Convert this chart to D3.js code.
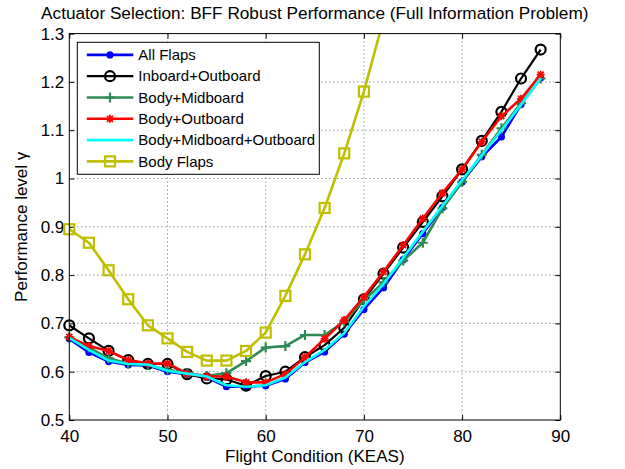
<!DOCTYPE html>
<html>
<head>
<meta charset="utf-8">
<script src="https://cdn.jsdelivr.net/npm/d3@7/dist/d3.min.js"></script>
<style>
body{margin:0;background:#fff;}
text{font-family:"Liberation Sans",Arial,Helvetica,sans-serif;fill:#000;}
</style>
</head>
<body>
<div id="chart"></div>
<script>
// data
var flightCond = [40,42,44,46,48,50,52,54,56,58,60,62,64,66,68,70,72,74,76,78,80,82,84,86,88];

var allFlaps = [0.668,0.640,0.621,0.614,0.613,0.600,0.595,0.588,0.569,0.569,0.571,0.585,0.619,0.641,0.678,0.729,0.774,0.832,0.886,0.940,0.993,1.045,1.086,1.153,1.208];
var inboardOutboard = [0.696,0.669,0.643,0.624,0.616,0.616,0.595,0.586,0.584,0.571,0.591,0.600,0.630,0.655,0.691,0.750,0.803,0.857,0.910,0.963,1.019,1.078,1.138,1.207,1.267];
var bodyMidboard = [0.671,0.650,0.628,0.617,0.614,0.604,0.597,0.591,0.597,0.622,0.650,0.653,0.676,0.676,0.704,0.748,0.785,0.830,0.867,0.938,0.993,1.049,1.104,1.156,1.207];
var bodyOutboard = [0.672,0.653,0.643,0.624,0.617,0.617,0.596,0.590,0.590,0.578,0.578,0.595,0.630,0.668,0.707,0.755,0.807,0.862,0.917,0.970,1.019,1.076,1.129,1.165,1.215];
var bodyMidOutboard = [0.670,0.645,0.623,0.616,0.615,0.602,0.596,0.590,0.572,0.569,0.572,0.588,0.620,0.645,0.680,0.735,0.782,0.836,0.890,0.943,0.997,1.048,1.100,1.153,1.208];
var bodyFlaps = [0.895,0.867,0.810,0.750,0.696,0.669,0.641,0.623,0.623,0.643,0.681,0.757,0.843,0.939,1.052,1.180,1.330];

var seriesNames = ['All Flaps','Inboard+Outboard','Body+Midboard','Body+Outboard','Body+Midboard+Outboard','Body Flaps'];

var xTicks = [40,50,60,70,80,90];
var yTicks = [0.5,0.6,0.7,0.8,0.9,1.0,1.1,1.2,1.3];

var svgWidth = 625,
svgHeight = 469;

var margin = {
t:33.6,
r:64.7,
b:49,
l:69.3,
};

var width = svgWidth - margin.l - margin.r,
height = svgHeight - margin.t - margin.b;

var series = [
	{name:seriesNames[0], vals:allFlaps, color:'#0000ff', marker:'dot', lw:2.6},
	{name:seriesNames[1], vals:inboardOutboard, color:'#000000', marker:'circle', lw:2.2},
	{name:seriesNames[2], vals:bodyMidboard, color:'#2e8b57', marker:'plus', lw:2.6},
	{name:seriesNames[3], vals:bodyOutboard, color:'#ff0000', marker:'star', lw:2.6},
	{name:seriesNames[4], vals:bodyMidOutboard, color:'#00ffff', marker:'none', lw:2.6},
	{name:seriesNames[5], vals:bodyFlaps, color:'#bfbf00', marker:'square', lw:2.6}
];

var svg = d3.select('#chart')
	.append('svg')
	.attr('width', svgWidth)
	.attr('height', svgHeight);

var chart = svg.append('g')
	.attr('transform', `translate(${margin.l},${margin.t})`);

var xScale = d3.scaleLinear().domain([40,90]).range([0, width]);
var yScale = d3.scaleLinear().domain([0.5,1.3]).range([height, 0]);

// dotted grid
chart.append('g').selectAll('line')
	.data(xTicks.slice(1, -1))
	.enter().append('line')
	.attr('x1', d => xScale(d)).attr('x2', d => xScale(d))
	.attr('y1', 0).attr('y2', height)
	.attr('stroke', '#666').attr('stroke-width', 1).attr('stroke-dasharray', '1,3');

chart.append('g').selectAll('line')
	.data(yTicks.slice(1, -1))
	.enter().append('line')
	.attr('y1', d => yScale(d)).attr('y2', d => yScale(d))
	.attr('x1', 0).attr('x2', width)
	.attr('stroke', '#666').attr('stroke-width', 1).attr('stroke-dasharray', '1,3');

// axes, ticks inside
var fmtY = d => String(+d.toFixed(1));

var xAxisG = chart.append('g')
	.attr('transform', `translate(0,${height})`)
	.call(d3.axisBottom(xScale).tickValues(xTicks).tickSizeInner(-5).tickSizeOuter(0).tickPadding(10));
var yAxisG = chart.append('g')
	.call(d3.axisLeft(yScale).tickValues(yTicks).tickFormat(fmtY).tickSizeInner(-5).tickSizeOuter(0).tickPadding(5));
var topAxisG = chart.append('g')
	.call(d3.axisTop(xScale).tickValues(xTicks).tickFormat('').tickSizeInner(-5).tickSizeOuter(0));
var rightAxisG = chart.append('g')
	.attr('transform', `translate(${width},0)`)
	.call(d3.axisRight(yScale).tickValues(yTicks).tickFormat('').tickSizeInner(-5).tickSizeOuter(0));

[xAxisG, yAxisG, topAxisG, rightAxisG].forEach(g => {
	g.select('.domain').remove();
	g.selectAll('text').attr('font-size', 17).attr('font-family', null);
	g.selectAll('line').attr('stroke', '#000');
});

// lines
chart.append('clipPath')
	.attr('id', 'plotClip')
	.append('rect')
	.attr('width', width)
	.attr('height', height);

var line = d3.line()
	.x((d, i) => xScale(flightCond[i]))
	.y(d => yScale(d));

function drawMarker(g, type, color) {
	if (type == 'dot') {
		g.append('circle').attr('r', 3.6).attr('fill', color);
	} else if (type == 'circle') {
		g.append('circle').attr('r', 5).attr('fill', 'none').attr('stroke', color).attr('stroke-width', 2.2);
	} else if (type == 'plus') {
		g.append('path').attr('d', 'M-5,0H5M0,-5V5').attr('stroke', color).attr('stroke-width', 2.2);
	} else if (type == 'star') {
		g.append('path').attr('d', 'M-4,0H4M0,-4V4M-3,-3L3,3M-3,3L3,-3').attr('stroke', color).attr('stroke-width', 1.8);
	} else if (type == 'square') {
		g.append('rect').attr('x', -5).attr('y', -5).attr('width', 10).attr('height', 10)
			.attr('fill', 'none').attr('stroke', color).attr('stroke-width', 2.2);
	}
}

// each series: line then its markers, in plotting order
series.forEach(s => {
	var sg = chart.append('g');
	sg.append('path')
		.datum(s.vals)
		.attr('clip-path', 'url(#plotClip)')
		.attr('d', line)
		.attr('fill', 'none')
		.attr('stroke', s.color)
		.attr('stroke-width', s.lw)
		.attr('stroke-linejoin', 'round');

	s.vals.forEach((v, i) => {
		if (v > 1.3) return;
		var m = sg.append('g')
			.attr('transform', `translate(${xScale(flightCond[i])},${yScale(v)})`);
		drawMarker(m, s.marker, s.color);
	});
});

// frame
chart.append('rect')
	.attr('width', width)
	.attr('height', height)
	.attr('fill', 'none')
	.attr('stroke', '#000')
	.attr('stroke-width', 1);

// legend
var legend = chart.append('g')
	.attr('transform', `translate(${77.3 - margin.l},${42.3 - margin.t})`);

legend.append('rect')
	.attr('width', 242)
	.attr('height', 132)
	.attr('fill', '#fff')
	.attr('stroke', '#000')
	.attr('stroke-width', 1);

series.forEach((s, i) => {
	var row = legend.append('g')
		.attr('transform', `translate(0,${12.6 + i * 21.3})`);
	row.append('line')
		.attr('x1', 9.5).attr('x2', 56)
		.attr('stroke', s.color)
		.attr('stroke-width', s.lw);
	var m = row.append('g').attr('transform', 'translate(32.7,0)');
	drawMarker(m, s.marker, s.color);
	row.append('text')
		.attr('x', 61)
		.attr('dy', '0.35em')
		.attr('font-size', 15)
		.text(s.name);
});

// titles
svg.append('text')
	.attr('x', margin.l + width / 2)
	.attr('y', 18.5)
	.attr('text-anchor', 'middle')
	.attr('font-size', 17.2)
	.text('Actuator Selection: BFF Robust Performance (Full Information Problem)');

svg.append('text')
	.attr('x', margin.l + width / 2)
	.attr('y', 462)
	.attr('text-anchor', 'middle')
	.attr('font-size', 17)
	.text('Flight Condition (KEAS)');

svg.append('text')
	.attr('transform', `translate(27,${margin.t + height / 2})rotate(-90)`)
	.attr('text-anchor', 'middle')
	.attr('font-size', 17)
	.text('Performance level γ');
</script>
</body>
</html>
